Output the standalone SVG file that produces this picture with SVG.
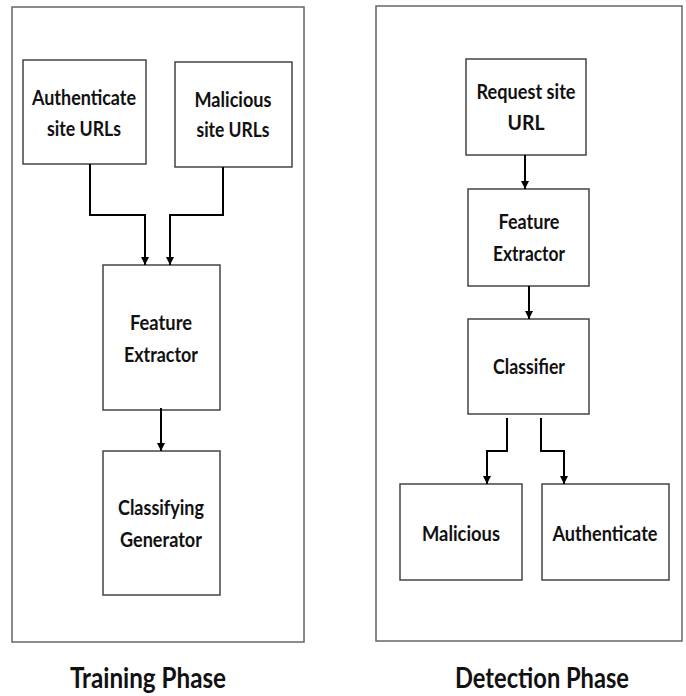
<svg xmlns="http://www.w3.org/2000/svg" width="686" height="696" viewBox="0 0 686 696">
<defs>
<marker id="ah" viewBox="0 0 10 10" refX="10" refY="5" markerWidth="4" markerHeight="4" orient="auto" markerUnits="strokeWidth">
<path d="M0,0 L10,5 L0,10 z" fill="#000"/>
</marker>
<style>
.frame{fill:#fff;stroke:#666;stroke-width:1.5}
.box{fill:#fff;stroke:#444;stroke-width:1.5}
.t{font-family:Lato,"Liberation Sans",sans-serif;font-weight:bold;font-size:20px;fill:#111;text-anchor:middle}
.title{font-family:Lato,"Liberation Sans",sans-serif;font-weight:bold;font-size:29px;fill:#111;text-anchor:middle}
.c{fill:none;stroke:#000;stroke-width:2;marker-end:url(#ah)}
</style>
</defs>
<rect width="686" height="696" fill="#fff"/>
<g id="training-frame"><rect class="frame" x="12" y="7" width="292" height="635"/></g>
<g id="detection-frame"><rect class="frame" x="376" y="6" width="306" height="635"/></g>
<g id="auth-urls"><rect class="box" x="23" y="60" width="123" height="104"/><text class="t" x="84" y="105" textLength="104" lengthAdjust="spacingAndGlyphs">Authenticate</text><text class="t" x="84" y="136" textLength="74" lengthAdjust="spacingAndGlyphs">site URLs</text></g>
<g id="mal-urls"><rect class="box" x="175" y="62" width="117" height="105"/><text class="t" x="233" y="107" textLength="77" lengthAdjust="spacingAndGlyphs">Malicious</text><text class="t" x="233" y="137" textLength="73" lengthAdjust="spacingAndGlyphs">site URLs</text></g>
<g id="fe-train"><rect class="box" x="103" y="265" width="117" height="145"/><text class="t" x="161" y="330" textLength="62" lengthAdjust="spacingAndGlyphs">Feature</text><text class="t" x="161" y="362" textLength="74" lengthAdjust="spacingAndGlyphs">Extractor</text></g>
<g id="cls-gen"><rect class="box" x="103" y="451" width="117" height="144"/><text class="t" x="161" y="515" textLength="86" lengthAdjust="spacingAndGlyphs">Classifying</text><text class="t" x="161" y="547" textLength="82" lengthAdjust="spacingAndGlyphs">Generator</text></g>
<g id="request"><rect class="box" x="466" y="59" width="120" height="96"/><text class="t" x="526" y="99" textLength="99" lengthAdjust="spacingAndGlyphs">Request site</text><text class="t" x="526" y="130" textLength="37" lengthAdjust="spacingAndGlyphs">URL</text></g>
<g id="fe-detect"><rect class="box" x="468" y="189" width="121" height="97"/><text class="t" x="529" y="229" textLength="61" lengthAdjust="spacingAndGlyphs">Feature</text><text class="t" x="529" y="261" textLength="72" lengthAdjust="spacingAndGlyphs">Extractor</text></g>
<g id="classifier"><rect class="box" x="468" y="319" width="121" height="95"/><text class="t" x="529" y="374" textLength="72" lengthAdjust="spacingAndGlyphs">Classifier</text></g>
<g id="malicious"><rect class="box" x="400" y="484" width="122" height="96"/><text class="t" x="461" y="541" textLength="78" lengthAdjust="spacingAndGlyphs">Malicious</text></g>
<g id="authentic"><rect class="box" x="542" y="484" width="127" height="96"/><text class="t" x="605" y="541" textLength="105" lengthAdjust="spacingAndGlyphs">Authenticate</text></g>
<g id="titles"><text class="title" x="148" y="688" textLength="156" lengthAdjust="spacingAndGlyphs">Training Phase</text><text class="title" x="542" y="688" textLength="174" lengthAdjust="spacingAndGlyphs">Detection Phase</text></g>
<g id="connectors">
<path class="c" d="M90,164 V215 H145 V265"/>
<path class="c" d="M223,167 V215 H170 V265"/>
<path class="c" d="M161,408 V451"/>
<path class="c" d="M525,155 V189"/>
<path class="c" d="M529,286 V319"/>
<path class="c" d="M507,418 V451 H487 V484"/>
<path class="c" d="M541,418 V451 H564 V484"/>
</g>
</svg>
